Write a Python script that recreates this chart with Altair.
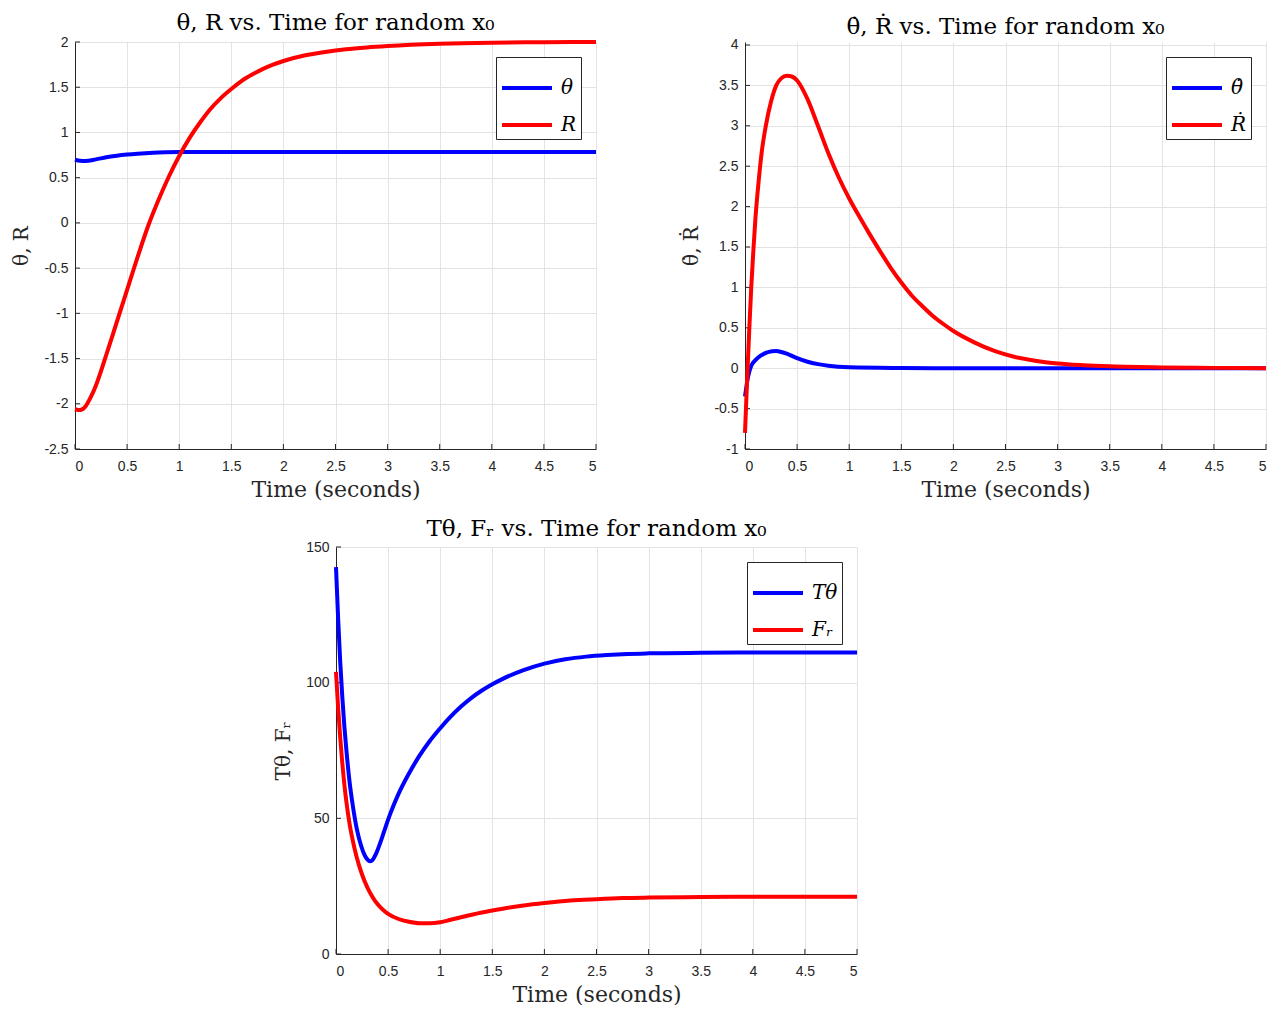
import altair as alt
import pandas as pd

# ---------- data ----------
XTICKS = [0, 0.5, 1, 1.5, 2, 2.5, 3, 3.5, 4, 4.5, 5]

# Panel 1: theta, R
t_theta = [0, 0.05, 0.1, 0.2, 0.3, 0.4, 0.5, 0.6, 0.75, 1.0, 1.5, 2, 3, 4, 5]
v_theta = [0.698, 0.686, 0.684, 0.702, 0.725, 0.742, 0.755, 0.765, 0.776, 0.783, 0.785, 0.785, 0.785, 0.785, 0.785]
t_R = [0, 0.05, 0.1, 0.15, 0.2, 0.3, 0.4, 0.5, 0.6, 0.7, 0.8, 0.9, 1.0, 1.1, 1.2, 1.3, 1.4, 1.5,
       1.6, 1.7, 1.8, 1.9, 2.0, 2.2, 2.4, 2.6, 2.8, 3.0, 3.5, 4, 4.5, 5]
v_R = [-2.06, -2.07, -2.03, -1.93, -1.80, -1.46, -1.10, -0.74, -0.38, -0.04, 0.25, 0.51, 0.74, 0.94,
       1.11, 1.26, 1.38, 1.48, 1.57, 1.64, 1.70, 1.75, 1.79, 1.85, 1.89, 1.92, 1.94, 1.955, 1.98,
       1.993, 1.998, 2.0]
Y1TICKS = [-2.5, -2, -1.5, -1, -0.5, 0, 0.5, 1, 1.5, 2]

# Panel 2: theta dot, R dot
t_thd = [0, 0.03, 0.06, 0.1, 0.15, 0.2, 0.26, 0.3, 0.35, 0.4, 0.5, 0.6, 0.7, 0.8, 1.0, 1.5, 2, 3, 4, 5]
v_thd = [-0.35, -0.10, 0.03, 0.10, 0.155, 0.19, 0.21, 0.213, 0.20, 0.18, 0.125, 0.08, 0.05, 0.03,
         0.012, 0.003, 0.0, 0.0, 0.0, 0.0]
t_Rd = [0, 0.02, 0.04, 0.06, 0.08, 0.10, 0.13, 0.16, 0.2, 0.25, 0.3, 0.35, 0.4, 0.45, 0.5, 0.55,
        0.6, 0.7, 0.8, 0.9, 1.0, 1.1, 1.2, 1.3, 1.4, 1.5, 1.6, 1.7, 1.8, 1.9, 2.0, 2.2, 2.4, 2.6,
        2.8, 3.0, 3.25, 3.5, 4, 4.5, 5]
v_Rd = [-0.80, -0.15, 0.45, 1.0, 1.45, 1.85, 2.3, 2.67, 3.0, 3.3, 3.5, 3.59, 3.62, 3.61, 3.56, 3.46,
        3.33, 3.00, 2.66, 2.36, 2.10, 1.87, 1.65, 1.44, 1.24, 1.06, 0.90, 0.77, 0.65, 0.55, 0.46,
        0.32, 0.21, 0.135, 0.09, 0.058, 0.037, 0.024, 0.01, 0.004, 0.0]
Y2TICKS = [-1, -0.5, 0, 0.5, 1, 1.5, 2, 2.5, 3, 3.5, 4]

# Panel 3: T_theta, F_r
t_T = [0, 0.02, 0.04, 0.06, 0.08, 0.1, 0.13, 0.16, 0.2, 0.24, 0.28, 0.31, 0.33, 0.35, 0.38, 0.42,
       0.46, 0.5, 0.55, 0.6, 0.7, 0.8, 0.9, 1.0, 1.1, 1.2, 1.3, 1.4, 1.5, 1.6, 1.8, 2.0, 2.2, 2.4,
       2.6, 2.8, 3.0, 3.5, 4, 5]
v_T = [142.6, 124, 108, 95, 84, 75, 63.5, 55, 46, 40, 36, 34.5, 34.2, 34.6, 36.6, 40.5,
       45, 49.5, 54.5, 59, 66.5, 73, 78.5, 83.2, 87.5, 91.2, 94.4, 97.1, 99.4, 101.4, 104.6, 107.0,
       108.6, 109.6, 110.2, 110.6, 110.8, 111.0, 111.1, 111.1]
t_F = [0, 0.02, 0.04, 0.06, 0.08, 0.1, 0.13, 0.16, 0.2, 0.25, 0.3, 0.35, 0.4, 0.45, 0.5, 0.6, 0.7,
       0.8, 0.9, 1.0, 1.1, 1.2, 1.4, 1.6, 1.8, 2.0, 2.25, 2.5, 2.75, 3.0, 3.5, 4, 5]
v_F = [104, 91, 80, 70.5, 62.5, 56, 48, 42, 35.5, 29.3, 24.6, 21.0, 18.3, 16.3, 14.8, 12.9, 11.9,
       11.35, 11.3, 11.7, 12.6, 13.55, 15.3, 16.7, 17.9, 18.8, 19.7, 20.2, 20.6, 20.8, 21.0, 21.1, 21.1]
Y3TICKS = [0, 50, 100, 150]

BLUE = "#0000ff"
RED = "#ff0000"
SERIF = "DejaVu Serif"
SANS = "Liberation Sans"
LBL = "'' + datum.value"


def long_df(pairs):
    rows = []
    for name, ts, vs in pairs:
        for t, v in zip(ts, vs):
            rows.append({"t": t, "v": v, "s": name})
    return pd.DataFrame(rows)


def panel(pairs, ytitle, title, ydom, yticks, width, height):
    names = [p[0] for p in pairs]
    df = long_df(pairs)
    xenc = alt.X("t:Q", scale=alt.Scale(domain=[0, 5], nice=False, zero=False),
                 axis=alt.Axis(values=XTICKS, labelExpr=LBL, title="Time (seconds)", ticks=False,
                               labelPadding=10, titlePadding=6, titleFontSize=22))
    yenc = alt.Y("v:Q", scale=alt.Scale(domain=ydom, nice=False, zero=False),
                 axis=alt.Axis(values=yticks, labelExpr=LBL, title=ytitle, ticks=False,
                               labelPadding=7, titlePadding=12, titleFontSize=20))
    lines = alt.Chart(df).mark_line(strokeWidth=4, interpolate="monotone").encode(
        x=xenc, y=yenc,
        color=alt.Color("s:N", sort=names,
                        scale=alt.Scale(domain=names, range=[BLUE, RED]),
                        legend=alt.Legend(orient="top-right", title=None, symbolType="stroke",
                                          symbolSize=2500, symbolStrokeWidth=4, symbolOpacity=1,
                                          labelFont=SERIF, labelFontSize=20,
                                          labelFontStyle="italic", labelColor="black",
                                          fillColor="white", strokeColor="#262626",
                                          padding=4, offset=15, rowPadding=-12, labelOffset=7)),
    )
    xt = alt.Chart(pd.DataFrame({"t": XTICKS})).mark_rule(color="#262626").encode(
        x=xenc, y=alt.value(height), y2=alt.value(height - 5))
    yt = alt.Chart(pd.DataFrame({"v": yticks})).mark_rule(color="#262626").encode(
        y=yenc, x=alt.value(0), x2=alt.value(5))
    return alt.layer(xt, yt, lines).properties(
        width=width, height=height,
        title=alt.Title(title, font=SERIF, fontSize=23, fontWeight="normal", color="black",
                        offset=-1, frame="group"))


p1 = panel([("θ", t_theta, v_theta), ("R", t_R, v_R)], "θ, R",
           "θ, R vs. Time for random x₀", [-2.5, 2], Y1TICKS, 521, 407)
# 404 px tall axis in the reference; 3 px of head-room keep its bottom level with panel 1
p2 = panel([("θ̇", t_thd, v_thd), ("Ṙ", t_Rd, v_Rd)], "θ̇, Ṙ",
           "θ̇, Ṙ vs. Time for random x₀", [-1, 4.037], Y2TICKS, 521, 407)
p3 = panel([("Tθ", t_T, v_T), ("Fᵣ", t_F, v_F)], "Tθ, Fᵣ",
           "Tθ, Fᵣ vs. Time for random x₀", [0, 150], Y3TICKS, 521, 407)

spacer = alt.Chart(pd.DataFrame({"a": [0]})).mark_point(opacity=0).encode(
    x=alt.value(0), y=alt.value(0)).properties(width=198, height=407)

top = alt.hconcat(p1, p2, spacing=77).resolve_scale(color="independent")
bottom = alt.hconcat(spacer, p3, spacing=0).resolve_scale(color="independent")
chart = alt.vconcat(top, bottom, spacing=18).resolve_scale(color="independent").properties(
    padding={"top": 4, "left": 3, "right": 0, "bottom": 0})

chart = chart.configure(background="white").configure_view(stroke=None).configure_axis(
    labelFont=SANS, labelFontSize=14, labelColor="#262626",
    domainColor="#262626", domainWidth=1,
    gridColor="#e3e3e3", gridWidth=1,
    titleFont=SERIF, titleFontWeight="normal", titleColor="#262626",
)

chart.save("out.html", embed_options={"renderer": "svg", "actions": False})
